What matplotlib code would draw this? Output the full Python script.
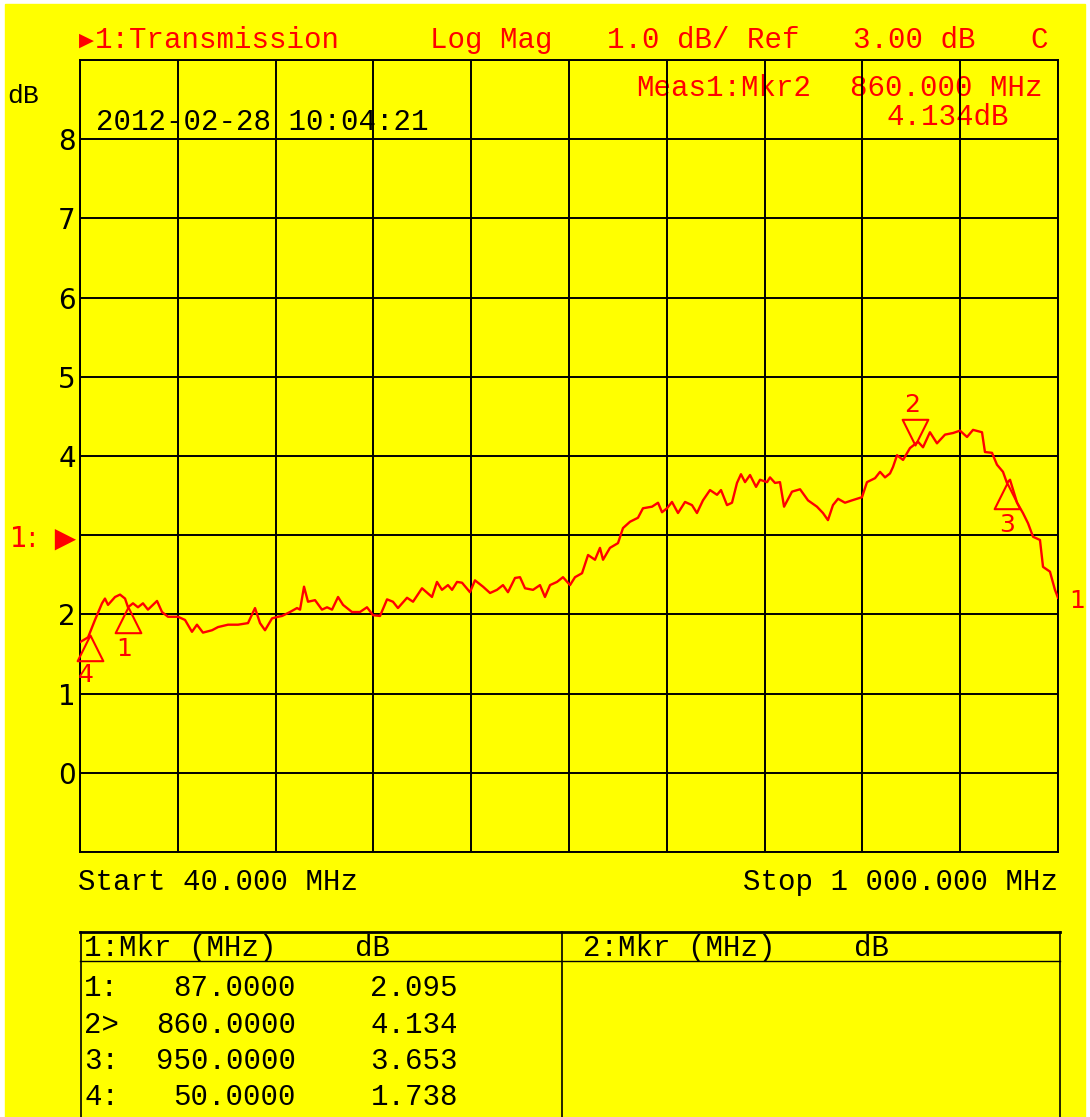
import numpy as np
import matplotlib.pyplot as plt
from matplotlib.path import Path

W, H = 1090, 1117

# trace (MHz, dB)
freq_mhz = [
    40.0, 47.9, 54.7, 61.6, 64.5, 67.5, 74.4, 79.3, 84.2, 87.1,
    92.0, 96.9, 101.8, 106.7, 115.6, 120.5, 126.4, 136.2, 143.1, 149.9,
    154.8, 160.7, 169.6, 175.5, 185.3, 195.1, 204.9, 211.8, 216.7, 221.6,
    228.5, 234.4, 238.3, 246.1, 253.0, 256.0, 259.9, 263.8, 270.7, 277.5,
    282.5, 287.4, 293.3, 298.2, 307.0, 314.8, 321.7, 327.6, 334.5, 341.4,
    347.2, 352.1, 361.0, 366.9, 375.7, 385.5, 390.4, 395.3, 401.2, 405.2,
    410.1, 415.0, 422.8, 427.7, 435.6, 442.5, 449.3, 455.2, 460.1, 467.0,
    471.9, 476.8, 484.7, 491.5, 496.4, 501.4, 508.2, 514.1, 521.0, 525.9,
    532.8, 538.7, 545.5, 550.4, 553.4, 560.2, 568.1, 573.0, 579.9, 587.7,
    592.6, 601.5, 607.4, 611.3, 616.2, 621.1, 627.0, 633.9, 640.7, 645.6,
    651.5, 658.4, 665.3, 669.2, 675.1, 680.0, 684.9, 688.8, 692.8, 697.7,
    703.6, 707.5, 714.4, 717.3, 722.2, 727.1, 731.1, 738.9, 746.8, 754.6,
    763.4, 769.3, 774.2, 779.1, 784.1, 790.9, 797.8, 807.6, 812.5, 820.4,
    825.3, 830.2, 835.1, 838.0, 842.0, 847.9, 854.7, 862.6, 867.5, 874.3,
    881.2, 889.1, 896.9, 903.8, 910.7, 916.6, 925.4, 928.3, 935.2, 940.1,
    946.0, 949.9, 952.9, 959.8, 965.6, 970.6, 975.5, 982.3, 985.3, 992.1,
    997.0, 1000.0]
trace_db = [
    1.65, 1.71, 1.93, 2.14, 2.20, 2.12, 2.22, 2.25, 2.20, 2.09,
    2.14, 2.09, 2.14, 2.06, 2.17, 2.03, 1.97, 1.97, 1.93, 1.78,
    1.87, 1.77, 1.80, 1.84, 1.87, 1.87, 1.89, 2.08, 1.89, 1.80,
    1.95, 1.97, 1.98, 2.03, 2.08, 2.06, 2.35, 2.16, 2.18, 2.06,
    2.09, 2.06, 2.22, 2.12, 2.03, 2.03, 2.09, 1.99, 1.98, 2.19,
    2.16, 2.08, 2.21, 2.16, 2.33, 2.22, 2.41, 2.31, 2.37, 2.31,
    2.41, 2.40, 2.28, 2.43, 2.35, 2.27, 2.31, 2.37, 2.28, 2.46,
    2.47, 2.33, 2.31, 2.37, 2.22, 2.37, 2.41, 2.47, 2.37, 2.47,
    2.52, 2.75, 2.69, 2.84, 2.69, 2.84, 2.90, 3.09, 3.17, 3.22,
    3.34, 3.36, 3.41, 3.29, 3.34, 3.42, 3.28, 3.42, 3.38, 3.28,
    3.44, 3.57, 3.51, 3.57, 3.38, 3.41, 3.66, 3.77, 3.67, 3.76,
    3.61, 3.70, 3.67, 3.73, 3.66, 3.67, 3.36, 3.55, 3.58, 3.44,
    3.36, 3.28, 3.19, 3.38, 3.46, 3.41, 3.44, 3.48, 3.67, 3.72,
    3.80, 3.73, 3.78, 3.86, 4.01, 3.95, 4.10, 4.18, 4.11, 4.30,
    4.16, 4.27, 4.29, 4.32, 4.24, 4.33, 4.30, 4.05, 4.04, 3.89,
    3.80, 3.66, 3.70, 3.41, 3.28, 3.15, 2.98, 2.94, 2.60, 2.54,
    2.31, 2.21]

marker_ids = ['1', '2', '3', '4']
marker_mhz = [87.0, 860.0, 950.0, 50.0]
marker_db = [2.095, 4.134, 3.653, 1.738]
active = 1  # marker 2 is the active one

start_mhz, stop_mhz = 40.0, 1000.0
ref_db, scale_db = 3.0, 1.0
ytick_vals = [8, 7, 6, 5, 4, 2, 1, 0]
timestamp = '2012-02-28 10:04:21'

YEL = '#ffff00'
RED = '#ff0000'
MONO = ['Liberation Mono', 'DejaVu Sans Mono']
FS = 21

fig = plt.figure(figsize=(W / 100, H / 100), dpi=100, facecolor='white')

# screen layer in pixel coords (y down), for the yellow panel and all the readouts
scr = fig.add_axes([0, 0, 1, 1])
scr.set_xlim(0, W)
scr.set_ylim(H, 0)
scr.axis('off')
scr.add_patch(plt.Rectangle((5, 4), 1080, H, color=YEL, zorder=0))

ax = fig.add_axes([80 / W, 1 - 852 / H, 978 / W, 792 / H])
ax.set_facecolor('none')
ax.set_xlim(start_mhz, stop_mhz)
ax.set_ylim(ref_db - 4 * scale_db, ref_db + 6 * scale_db)
ax.set_xticks(np.linspace(start_mhz, stop_mhz, 11))
ax.set_xticklabels([])
yt = list(range(-1, 10))
ylab = []
for v in yt:
    if v == ref_db:
        ylab.append('1:  ▶')
    elif v in ytick_vals:
        ylab.append(str(v))
    else:
        ylab.append('')
ax.set_yticks(yt)
ax.set_yticklabels(ylab, fontsize=20, family='DejaVu Sans')
ax.get_yticklabels()[yt.index(int(ref_db))].set_color(RED)
ax.tick_params(length=0, pad=3)
ax.grid(True, color='black', lw=1.4)
for s in ax.spines.values():
    s.set_color('black')
    s.set_linewidth(1.4)

ax.plot(freq_mhz, trace_db, color=RED, lw=1.7, zorder=3)

# markers: open triangles with the tip on the trace, active one flipped
up = Path([(0, 0), (-0.5, -1), (0.5, -1), (0, 0)], closed=True)
down = Path([(0, 0), (-0.5, 1), (0.5, 1), (0, 0)], closed=True)
lab_off = [(-4, -42), (-3, 40), (0, -42), (-4, -40)]
for i, (m, f, d) in enumerate(zip(marker_ids, marker_mhz, marker_db)):
    ax.plot(f, d, marker=down if i == active else up, ms=37, mfc='none',
            mec=RED, mew=1.5, clip_on=False, zorder=4)
    ax.annotate(m, (f, d), xytext=lab_off[i], textcoords='offset pixels',
                ha='center', va='center', color=RED, fontsize=18,
                family='DejaVu Sans', annotation_clip=False)
ax.annotate('1', (freq_mhz[-1], trace_db[-1]), xytext=(11, -3),
            textcoords='offset pixels', ha='left', va='center', color=RED,
            fontsize=18, family='DejaVu Sans', annotation_clip=False)

# header line
scr.text(79, 40, '▶', color=RED, fontsize=14, family='DejaVu Sans', ha='left', va='center')
header = [(95, '1:Transmission'), (430, 'Log Mag'),
          (607, f'{scale_db:.1f} dB/ Ref'), (853, f'{ref_db:.2f} dB'), (1030, 'C')]
for x, s in header:
    scr.text(x, 40, s, color=RED, fontsize=FS, family=MONO, ha='left', va='center')

scr.text(7, 96, 'dB', color='black', fontsize=19, family=MONO, ha='left', va='center')
scr.text(96, 122, timestamp, color='black', fontsize=FS, family=MONO, ha='left', va='center')
scr.text(636, 88, f'Meas1:Mkr{active + 1}', color=RED, fontsize=FS, family=MONO, va='center')
scr.text(850, 88, f'{marker_mhz[active]:.3f} MHz', color=RED, fontsize=FS, family=MONO, va='center')
scr.text(886, 117, f'{marker_db[active]:.3f}dB', color=RED, fontsize=FS, family=MONO, va='center')

scr.text(78, 882, f'Start {start_mhz:.3f} MHz', fontsize=FS, family=MONO, va='center')
stop_txt = '{:,.3f}'.format(stop_mhz).replace(',', ' ')
scr.text(1058, 882, f'Stop {stop_txt} MHz', fontsize=FS, family=MONO, va='center', ha='right')

# marker table
scr.plot([80, 1060], [932, 932], color='black', lw=2)
scr.plot([80, 1060], [961, 961], color='black', lw=1)
for x in (81, 562, 1060):
    scr.plot([x, x], [932, H], color='black', lw=1.2)
for x, s in [(84, '1:Mkr (MHz)'), (355, 'dB'), (583, '2:Mkr (MHz)'), (854, 'dB')]:
    scr.text(x, 948, s, fontsize=FS, family=MONO, va='center')
row_y = [988, 1025, 1061, 1097]
for i, (m, f, d) in enumerate(zip(marker_ids, marker_mhz, marker_db)):
    tag = m + ('>' if i == active else ':')
    scr.text(84, row_y[i], tag, fontsize=FS, family=MONO, va='center')
    scr.text(296, row_y[i], f'{f:.4f}', fontsize=FS, family=MONO, va='center', ha='right')
    scr.text(458, row_y[i], f'{d:.3f}', fontsize=FS, family=MONO, va='center', ha='right')

fig.savefig('out.png', dpi=100)
